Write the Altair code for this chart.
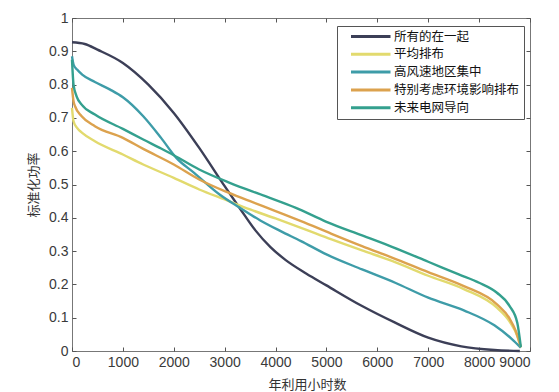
import altair as alt
import pandas as pd

names = ["所有的在一起", "平均排布", "高风速地区集中", "特别考虑环境影响排布", "未来电网导向"]
colors = ["#3c3f57", "#e2da6e", "#3e9ca8", "#dca24e", "#34a08e"]

all_x = [0, 250, 500, 1000, 1500, 2000, 2500, 3000, 3300, 3600, 3900, 4200, 4600, 5000, 5700, 6350, 7000, 7650, 8300, 8800]
all_y = [0.927, 0.922, 0.905, 0.865, 0.80, 0.715, 0.61, 0.495, 0.428, 0.363, 0.312, 0.273, 0.233, 0.197, 0.135, 0.085, 0.04, 0.014, 0.003, 0.0]

avg_x = [0, 30, 100, 200, 450, 1000, 1400, 2000, 2500, 3000, 3500, 4000, 4500, 5100, 5700, 6300, 7000, 7700, 8350, 8600, 8750, 8820]
avg_y = [0.73, 0.69, 0.67, 0.655, 0.63, 0.59, 0.56, 0.52, 0.485, 0.455, 0.425, 0.398, 0.37, 0.335, 0.302, 0.27, 0.226, 0.186, 0.13, 0.088, 0.045, 0.01]

wind_x = [0, 30, 100, 200, 450, 750, 1000, 1400, 1750, 2050, 2400, 2900, 3300, 3700, 4100, 4500, 5000, 5700, 6350, 7000, 7700, 8300, 8650, 8820]
wind_y = [0.885, 0.86, 0.845, 0.83, 0.808, 0.785, 0.762, 0.705, 0.64, 0.58, 0.535, 0.47, 0.43, 0.392, 0.36, 0.33, 0.29, 0.245, 0.205, 0.16, 0.122, 0.077, 0.035, 0.01]

env_x = [0, 30, 60, 190, 450, 1000, 1400, 2000, 2500, 3000, 3500, 4000, 4500, 5100, 5700, 6300, 7000, 7700, 8350, 8600, 8720, 8820]
env_y = [0.79, 0.75, 0.735, 0.705, 0.675, 0.64, 0.607, 0.56, 0.515, 0.48, 0.45, 0.42, 0.39, 0.352, 0.315, 0.28, 0.237, 0.195, 0.14, 0.097, 0.06, 0.012]

grid_x = [0, 30, 90, 190, 450, 1000, 1400, 1750, 2000, 2500, 3100, 3800, 4400, 5000, 5700, 6300, 7000, 7600, 8000, 8350, 8600, 8750, 8820]
grid_y = [0.875, 0.80, 0.765, 0.74, 0.71, 0.667, 0.635, 0.608, 0.588, 0.545, 0.505, 0.465, 0.43, 0.388, 0.347, 0.312, 0.268, 0.23, 0.205, 0.175, 0.135, 0.085, 0.012]

x_ticks = [0, 1000, 2000, 3000, 4000, 5000, 6000, 7000, 8000, 9000]
y_ticks = [0, 0.1, 0.2, 0.3, 0.4, 0.5, 0.6, 0.7, 0.8, 0.9, 1]

series = [all_x, avg_x, wind_x, env_x, grid_x]
values = [all_y, avg_y, wind_y, env_y, grid_y]
rows = []
for i, (name, xs, ys) in enumerate(zip(names, series, values)):
    for j, (a, b) in enumerate(zip(xs, ys)):
        rows.append({"series": name, "order": i, "x": a, "y": b, "idx": j})
df = pd.DataFrame(rows)

LAB = "Liberation Sans"
CJK = "Noto Sans CJK SC"

xscale = alt.Scale(domain=[0, 9000], nice=False, zero=False)
yscale = alt.Scale(domain=[0, 1], nice=False)
cscale = alt.Scale(domain=names, range=colors)

main = alt.Chart(df).mark_line(interpolate="monotone", strokeWidth=2.4).encode(
    x=alt.X("x:Q", scale=xscale, axis=alt.Axis(
        orient="bottom", values=x_ticks, format="d", grid=False, domain=False,
        offset=-4, tickSize=4, tickColor="#555", labelPadding=4,
        labelFont=LAB, labelFontSize=14, labelColor="#3a3a3a",
        title="年利用小时数", titleFont=CJK, titleFontSize=13, titleFontWeight="normal",
        titleColor="#333", titlePadding=9, titleX=235)),
    y=alt.Y("y:Q", scale=yscale, axis=alt.Axis(
        orient="left", values=y_ticks, format="~g", grid=False, domain=False,
        offset=-4, tickSize=4, tickColor="#555", labelPadding=4,
        labelFont=LAB, labelFontSize=14, labelColor="#3a3a3a",
        title="标准化功率", titleFont=CJK, titleFontSize=13, titleFontWeight="normal",
        titleColor="#333", titlePadding=8)),
    color=alt.Color("series:N", scale=cscale, legend=alt.Legend(
        title=None, orient="none", legendX=265, legendY=8,
        symbolType="M0.7,0H8.6", symbolSize=100, symbolStrokeWidth=3,
        labelFont=CJK, labelFontSize=12.5, labelColor="#111",
        strokeColor="#555", fillColor="white", padding=4, rowPadding=4.8, labelOffset=40)),
    detail="series:N",
    order="idx:Q",
)

ticks2 = alt.Chart(df).mark_line(opacity=0).encode(
    x=alt.X("x:Q", scale=xscale, axis=alt.Axis(
        orient="top", values=x_ticks, labels=False, grid=False, domain=False,
        offset=-4, tickSize=4, tickColor="#555", title=None)),
    y=alt.Y("y:Q", scale=yscale, axis=alt.Axis(
        orient="right", values=y_ticks, labels=False, grid=False, domain=False,
        offset=-4, tickSize=4, tickColor="#555", title=None)),
    color=alt.Color("series:N", scale=cscale, legend=None),
    detail="series:N",
)

chart = alt.layer(main, ticks2).resolve_axis(x="independent", y="independent").properties(
    width=458, height=333,
    autosize=alt.AutoSizeParams(type="none"),
    padding={"left": 64, "top": 10, "right": 21, "bottom": 40},
    background="white",
).configure_view(stroke="#777", strokeWidth=1)

chart.save("out.html", embed_options={"renderer": "svg", "actions": False})
